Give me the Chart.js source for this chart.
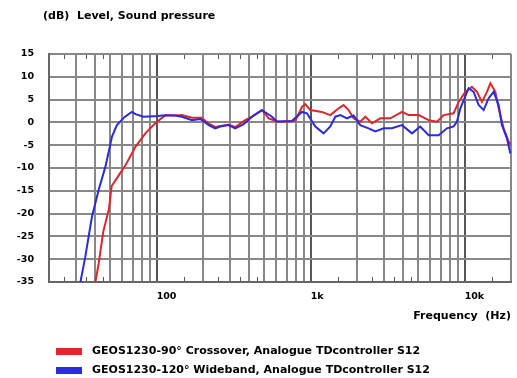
<!DOCTYPE html>
<html>
<head>
<meta charset="utf-8">
<script src="https://cdn.jsdelivr.net/npm/chart.js@4"></script>
<style>
  html, body { margin: 0; padding: 0; background: #fff; }
  #wrap { position: relative; width: 517px; height: 378px; font-family: 'DejaVu Sans', sans-serif; color: #000; }
  #chart { position: absolute; left: 0; top: 0; }
  .title { position: absolute; left: 43px; top: 9px; font-size: 11px; font-weight: bold; white-space: pre; }
  .leg { position: absolute; left: 56px; font-size: 11px; font-weight: bold; white-space: pre; }
  .leg i { position: absolute; left: 0; top: 4px; width: 26px; height: 7px; }
  .leg span { position: absolute; left: 36px; top: 0; }
</style>
</head>
<body>
<div id="wrap">
  <canvas id="chart" width="517" height="378"></canvas>
  <div class="title">(dB)  Level, Sound pressure</div>
  <div class="leg" style="top:344px"><i style="background:#e0262a"></i><span>GEOS1230-90° Crossover, Analogue TDcontroller S12</span></div>
  <div class="leg" style="top:363px"><i style="background:#2a2ae0"></i><span>GEOS1230-120° Wideband, Analogue TDcontroller S12</span></div>
</div>
<script>
// ── DATA ─────────────────────────────────────────────────────────────────
const FREQ_RED = [40, 42, 45, 49, 51, 57, 63, 73, 85, 98, 114, 132, 146, 170, 196, 218, 240, 259, 293, 324, 376, 416, 483, 534, 604, 651, 756, 795,
  878, 924, 995, 1184, 1342, 1520, 1637, 1765, 1900, 2100, 2265, 2500, 2836, 3293, 3920, 4330, 5030, 5840, 6610, 7310, 8480,
  9140, 10100, 11150, 12020, 12950, 13960, 14690, 15820, 16630, 17910, 19300, 20000];
const SPL_RED  = [-35, -31, -24, -19, -14, -11.5, -9.3, -5.3, -2.3, -0.2, 1.6, 1.5, 1.6, 1.0, 1.0, -0.3, -1.0, -0.8, -0.5, -1.0, 0.5, 1.25, 2.7, 0.9, 0.2, 0.15, 0.3, 0.3,
  3.4, 4.0, 2.7, 2.3, 1.6, 3.1, 3.8, 2.7, 0.9, 0.15, 1.25, -0.2, 0.9, 0.9, 2.3, 1.6, 1.6, 0.5, 0.15, 1.6, 2.0,
  4.5, 6.7, 7.8, 6.7, 4.5, 6.7, 8.6, 6.7, 3.1, -1.3, -4.2, -5.0];

const FREQ_BLUE = [32, 34.4, 38, 42, 46.5, 51.3, 55.2, 62, 69, 73, 82, 103, 108, 132, 146, 170, 192, 218, 240, 259, 293, 324, 367, 416, 483, 561, 604, 756,
  878, 946, 1073, 1214, 1342, 1447, 1559, 1720, 1900, 2100, 2380, 2630, 2980, 3370, 3920, 4550, 5150, 5840, 6780, 7670, 8480,
  8910, 9380, 10620, 11440, 12330, 13280, 14320, 15430, 16630, 17470, 18830, 19800];
const SPL_BLUE  = [-35, -29.5, -20.7, -14.8, -9.7, -3.1, -0.6, 1.2, 2.3, 1.8, 1.25, 1.4, 1.5, 1.5, 1.25, 0.5, 0.75, -0.6, -1.3, -0.9, -0.6, -1.3, -0.4, 1.25, 2.7, 1.25, 0.2, 0.3,
  2.3, 2.0, -0.9, -2.4, -0.9, 1.25, 1.6, 0.9, 1.5, -0.6, -1.3, -2.0, -1.3, -1.3, -0.6, -2.4, -0.9, -2.8, -2.8, -1.3, -0.9,
  0.15, 3.1, 7.5, 6.7, 3.8, 2.7, 5.3, 6.7, 3.8, -0.6, -3.5, -6.8];

const GRID_FREQS  = [20, 30, 40, 50, 60, 70, 80, 90, 100, 200, 300, 400, 500, 600, 700, 800, 900,
  1000, 2000, 3000, 4000, 5000, 6000, 7000, 8000, 9000, 10000, 20000];
const MINOR_FREQS = [25, 35, 45, 150, 250, 350, 450, 1500, 2500, 3500, 4500, 15000];
const X_LABELS    = { 100: '100', 1000: '1k', 10000: '10k' };
const Y_TICKS     = [15, 10, 5, 0, -5, -10, -15, -20, -25, -30, -35];

const toPoints = (fs, vs) => fs.map((f, i) => ({ x: f, y: vs[i] }));

// small tick marks at top/bottom of the plot
const minorTicks = {
  id: 'minorTicks',
  afterDraw(chart) {
    const { ctx, chartArea: a, scales: { x } } = chart;
    ctx.save();
    ctx.strokeStyle = '#555';
    ctx.lineWidth = 1;
    MINOR_FREQS.forEach(f => {
      const px = Math.round(x.getPixelForValue(f)) + 0.5;
      ctx.beginPath();
      ctx.moveTo(px, a.top + 1); ctx.lineTo(px, a.top + 5);
      ctx.moveTo(px, a.bottom - 1); ctx.lineTo(px, a.bottom - 5);
      ctx.stroke();
    });
    ctx.restore();
  }
};

const TICK_FONT = { family: "'DejaVu Sans'", size: 9.5, weight: 'bold' };

new Chart(document.getElementById('chart'), {
  type: 'line',
  data: {
    datasets: [
      { data: toPoints(FREQ_RED, SPL_RED),   borderColor: '#e0262a', borderWidth: 2, pointRadius: 0, tension: 0, order: 1 },
      { data: toPoints(FREQ_BLUE, SPL_BLUE), borderColor: '#2a2ae0', borderWidth: 2, pointRadius: 0, tension: 0, order: 0 },
    ]
  },
  plugins: [minorTicks],
  options: {
    responsive: false, animation: false,
    layout: { padding: { left: 0, right: 6, top: 54, bottom: 53 } },
    plugins: { legend: { display: false }, tooltip: { enabled: false } },
    scales: {
      x: {
        type: 'logarithmic', min: 20, max: 20000,
        afterBuildTicks: s => { s.ticks = GRID_FREQS.map(v => ({ value: v })); },
        afterFit: s => { s.height = 43; s.paddingLeft = 0; s.paddingRight = 0; },
        grid: {
          drawTicks: false, lineWidth: 2,
          color: c => (X_LABELS[c.tick && c.tick.value] ? '#555' : '#888'),
        },
        border: { color: '#666', width: 2 },
        ticks: {
          autoSkip: false, maxRotation: 0, align: 'start', padding: 9,
          color: '#000', font: TICK_FONT,
          callback: v => X_LABELS[v] || '',
        },
        title: {
          display: true, text: 'Frequency  (Hz)', align: 'end',
          color: '#000', font: { family: "'DejaVu Sans'", size: 11, weight: 'bold' },
          padding: { top: 0, bottom: 2 },
        },
      },
      y: {
        min: -35, max: 15,
        afterBuildTicks: s => { s.ticks = Y_TICKS.map(v => ({ value: v })); },
        afterFit: s => { s.width = 49; s.paddingTop = 0; s.paddingBottom = 0; },
        grid: { drawTicks: false, lineWidth: 2, color: '#888' },
        border: { color: '#666', width: 2 },
        ticks: { padding: 15, color: '#000', font: TICK_FONT },
      },
    },
  },
});
</script>
</body>
</html>
